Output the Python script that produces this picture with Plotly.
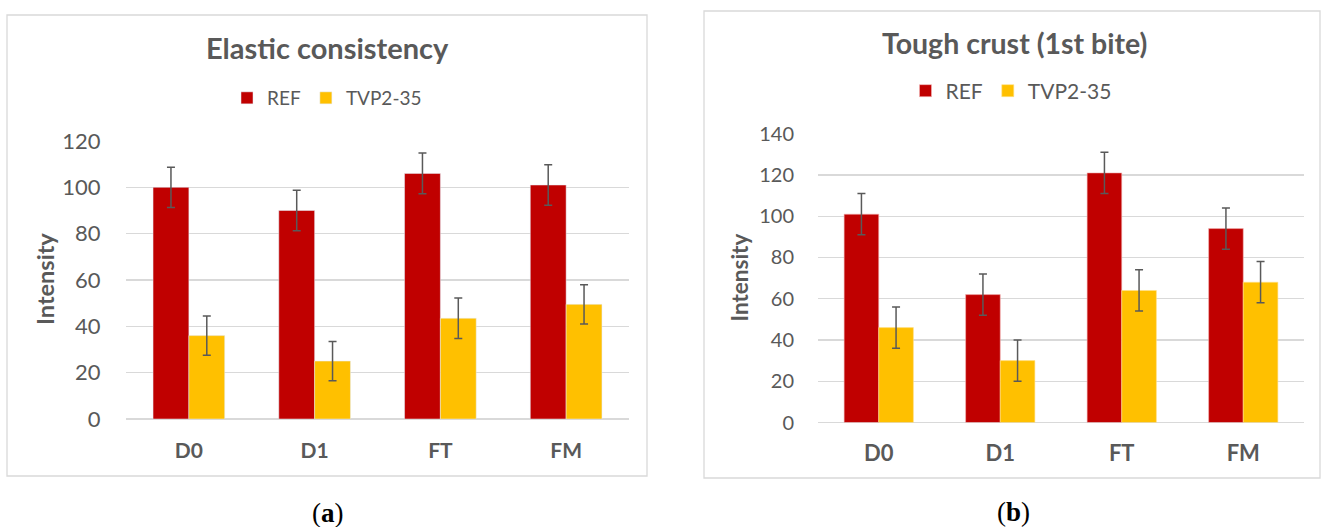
import plotly.graph_objects as go

W, H = 1322, 527

categories = ["D0", "D1", "FT", "FM"]
series_names = ["REF", "TVP2-35"]

# (a) Elastic consistency
a_ref = [100, 90, 106, 101]
a_ref_err = [8.7, 8.7, 8.8, 8.7]
a_tvp = [36, 25, 43.5, 49.5]
a_tvp_err = [8.5, 8.5, 8.7, 8.5]

# (b) Tough crust (1st bite)
b_ref = [101, 62, 121, 94]
b_ref_err = [10, 10, 10, 10]
b_tvp = [46, 30, 64, 68]
b_tvp_err = [10, 10, 10, 10]

a_ticks = [0, 20, 40, 60, 80, 100, 120]
b_ticks = [0, 20, 40, 60, 80, 100, 120, 140]

RED = "#C00000"
YEL = "#FFC000"
TXT = "#595959"
GRID = "#D9D9D9"
FONT = "Lato"

def px(x):
    return x / W

def py(y):
    return 1 - y / H

err_style = dict(type="data", color="#595959", thickness=1.5, width=4, visible=True)

fig = go.Figure()
fig.add_trace(go.Bar(x=categories, y=a_ref, name=series_names[0], marker_color=RED,
                     error_y=dict(array=a_ref_err, **err_style), xaxis="x", yaxis="y",
                     legend="legend"))
fig.add_trace(go.Bar(x=categories, y=a_tvp, name=series_names[1], marker_color=YEL,
                     error_y=dict(array=a_tvp_err, **err_style), xaxis="x", yaxis="y",
                     legend="legend"))
fig.add_trace(go.Bar(x=categories, y=b_ref, name=series_names[0], marker_color=RED,
                     marker_line=dict(color="#F4B7B7", width=0.6),
                     error_y=dict(array=b_ref_err, **err_style), xaxis="x2", yaxis="y2",
                     legend="legend2"))
fig.add_trace(go.Bar(x=categories, y=b_tvp, name=series_names[1], marker_color=YEL,
                     marker_line=dict(color="#FFE08A", width=0.6),
                     error_y=dict(array=b_tvp_err, **err_style), xaxis="x2", yaxis="y2",
                     legend="legend2"))

xcommon = dict(showgrid=False, showline=False, zeroline=False, ticks="outside",
               tickcolor="rgba(0,0,0,0)", fixedrange=True, automargin=False)
ycommon = dict(showgrid=True, gridcolor=GRID, gridwidth=1.3, zeroline=True,
               zerolinecolor=GRID, zerolinewidth=1.3, showline=False,
               ticks="outside", tickcolor="rgba(0,0,0,0)", fixedrange=True, automargin=False)

fig.update_layout(
    width=W, height=H, autosize=False,
    margin=dict(l=0, r=0, t=0, b=0, pad=0),
    paper_bgcolor="white", plot_bgcolor="white",
    barmode="group", bargap=0.43, bargroupgap=0,
    font=dict(family=FONT, color=TXT),
    hovermode=False,
    xaxis=dict(domain=[px(126), px(629)], anchor="y", ticklen=13,
               tickfont=dict(size=21, family=FONT, color=TXT, weight="bold"), **xcommon),
    yaxis=dict(domain=[py(419), py(141)], anchor="x", range=[0, 120],
               tickvals=a_ticks, ticklen=20,
               tickfont=dict(size=22, family=FONT, color=TXT), **ycommon),
    xaxis2=dict(domain=[px(818), px(1304)], anchor="y2", ticklen=11,
                tickfont=dict(size=22, family=FONT, color=TXT, weight="bold"), **xcommon),
    yaxis2=dict(domain=[py(422.5), py(133.7)], anchor="x2", range=[0, 140],
                tickvals=b_ticks, ticklen=19,
                tickfont=dict(size=20, family=FONT, color=TXT), **ycommon),
    legend=dict(orientation="h", x=px(327), y=py(98), xanchor="center", yanchor="middle",
                font=dict(size=19, family=FONT, color=TXT), bgcolor="rgba(0,0,0,0)",
                itemclick=False, itemdoubleclick=False),
    legend2=dict(orientation="h", x=px(1011), y=py(91), xanchor="center", yanchor="middle",
                 font=dict(size=21, family=FONT, color=TXT), bgcolor="rgba(0,0,0,0)",
                 itemclick=False, itemdoubleclick=False),
    showlegend=True,
)

# chart borders
fig.add_shape(type="rect", xref="paper", yref="paper", x0=px(7), x1=px(647), y0=py(476), y1=py(15),
              line=dict(color=GRID, width=1.3), layer="below")
fig.add_shape(type="rect", xref="paper", yref="paper", x0=px(704), x1=px(1320), y0=py(478), y1=py(11),
              line=dict(color=GRID, width=1.3), layer="below")

ann = []
ann.append(dict(text="<b>Elastic consistency</b>", x=px(327.5), y=py(48), xref="paper", yref="paper",
                xanchor="center", yanchor="middle", showarrow=False,
                font=dict(size=29, family=FONT, color=TXT)))
ann.append(dict(text="<b>Tough crust (1st bite)</b>", x=px(1014), y=py(42.7), xref="paper", yref="paper",
                xanchor="center", yanchor="middle", showarrow=False,
                font=dict(size=28.5, family=FONT, color=TXT)))
ann.append(dict(text="<b>Intensity</b>", x=px(45), y=py(279), xref="paper", yref="paper",
                xanchor="center", yanchor="middle", showarrow=False, textangle=-90,
                font=dict(size=23.5, family=FONT, color=TXT)))
ann.append(dict(text="<b>Intensity</b>", x=px(739), y=py(277.5), xref="paper", yref="paper",
                xanchor="center", yanchor="middle", showarrow=False, textangle=-90,
                font=dict(size=22.5, family=FONT, color=TXT)))
ann.append(dict(text="(<b>a</b>)", x=px(328), y=py(513), xref="paper", yref="paper",
                xanchor="center", yanchor="middle", showarrow=False,
                font=dict(size=27, family="Liberation Serif", color="#000000")))
ann.append(dict(text="(<b>b</b>)", x=px(1013), y=py(512), xref="paper", yref="paper",
                xanchor="center", yanchor="middle", showarrow=False,
                font=dict(size=27, family="Liberation Serif", color="#000000")))
fig.update_layout(annotations=ann)

fig.write_html("out.html", config={"displayModeBar": False, "staticPlot": True},
               post_script="document.body.style.margin='0';document.body.style.overflow='hidden';")
